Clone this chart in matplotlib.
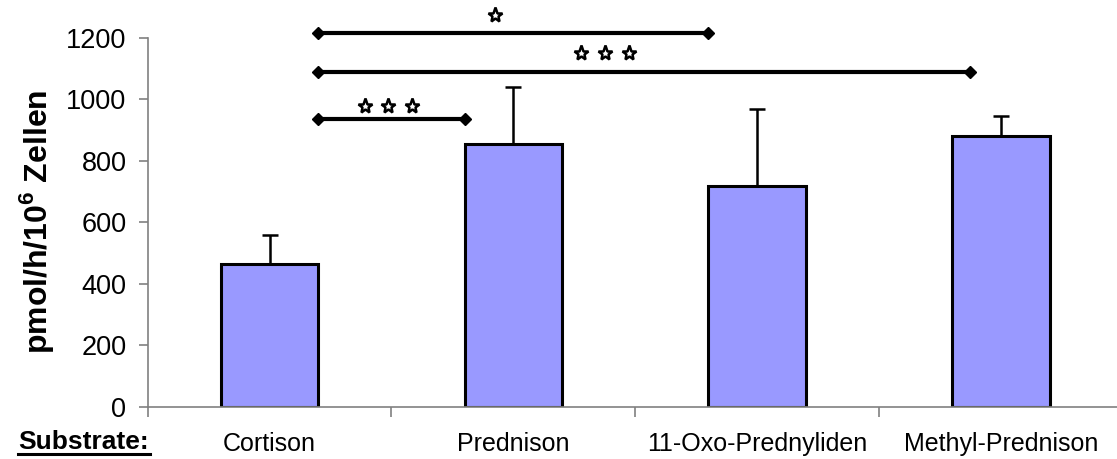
import matplotlib
matplotlib.use("Agg")
import matplotlib.pyplot as plt
from matplotlib.lines import Line2D
import numpy as np

plt.rcParams['font.family'] = ['Liberation Sans', 'DejaVu Sans']

# data
substrates = ["Cortison", "Prednison", "11-Oxo-Prednyliden", "Methyl-Prednison"]
values = [463, 854, 718, 879]
errors = [95, 187, 249, 67]

# significance brackets: start x, end x, height, number of stars, star centre x, star height
sig_x0 = [0.2, 0.2, 0.2]
sig_x1 = [1.8, 2.873, 0.8]
sig_y = [1214, 1089, 935]
sig_n = [1, 3, 3]
star_cx = [0.925, 1.376, 0.487]
star_y = [1275, 1151, 978]

fig = plt.figure(figsize=(11.17, 4.59), dpi=100)
ax = fig.add_axes([0.1322, 0.1139, 0.8678, 0.804])

x = np.arange(len(substrates))
ax.bar(x, values, width=0.4, color="#9999FF", edgecolor="black", linewidth=2.2, zorder=2)
ax.errorbar(x, values, yerr=[np.zeros(len(errors)), errors], fmt="none",
            ecolor="black", elinewidth=1.8, capsize=5.8, capthick=1.8, zorder=1)

for a, b, y, n, cx, sy in zip(sig_x0, sig_x1, sig_y, sig_n, star_cx, star_y):
    ax.plot([a, b], [y, y], color="black", lw=3, marker="D", ms=6,
            clip_on=False, zorder=3)
    sx = cx + (np.arange(n) - (n - 1) / 2) * 0.097
    ax.plot(sx, [sy] * n, ls="none", marker="*", ms=11, mfc="white",
            mec="black", mew=1.8, clip_on=False, zorder=3)

ax.set_xlim(-0.5, 3.476)
ax.set_ylim(0, 1200)
ax.set_yticks(range(0, 1201, 200))
ax.set_xticks(x)
ax.set_xticklabels(substrates, fontsize=18)
ax.set_xticks([-0.5, 0.5, 1.5, 2.5], minor=True)
ax.tick_params(axis="x", which="major", length=0, pad=18)
ax.tick_params(axis="x", which="minor", length=7, color="#808080", width=1.2)
ax.tick_params(axis="y", length=6.3, color="#808080", width=1.2, labelsize=19.5, pad=9)

for s in ["top", "right"]:
    ax.spines[s].set_visible(False)
for s in ["left", "bottom"]:
    ax.spines[s].set_color("#808080")
    ax.spines[s].set_linewidth(1.2)

ax.set_ylabel("pmol/h/10$^{\\mathregular{6}}$ Zellen", fontsize=23, fontweight="bold",
              va="center")
ax.yaxis.set_label_coords(-0.115, 0.5)

# "Substrate:" label, bold and underlined
fig.text(18 / 1117, 1 - 449 / 459, "Substrate:", fontsize=19, fontweight="bold",
         ha="left", va="baseline")
fig.add_artist(Line2D([18 / 1117, 150 / 1117], [1 - 454 / 459] * 2,
                      color="black", lw=2.2, transform=fig.transFigure))

fig.savefig("out.png", dpi=100)
